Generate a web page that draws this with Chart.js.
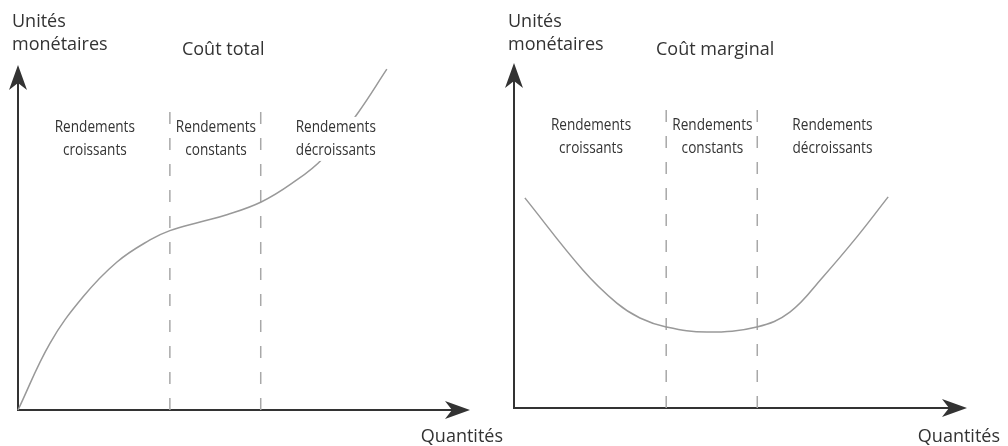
<!DOCTYPE html>
<html>
<head>
<meta charset="utf-8">
<script src="https://cdn.jsdelivr.net/npm/chart.js@4.4.0/dist/chart.umd.min.js"></script>
<style>
  body { margin: 0; background: #fff; }
  #wrap { display: flex; width: 1008px; height: 446px; }
  canvas { display: block; }
</style>
</head>
<body>
<div id="wrap">
  <canvas id="total" width="504" height="446"></canvas>
  <canvas id="marginal" width="504" height="446"></canvas>
</div>
<script>
// quantity where each regime ends (croissants | constants | décroissants)
const regimeLimits = [33.6, 53.7];
const dashTop = 87;

// total cost curve (axis 0-100 both ways)
const totalQ = [0, 7.1, 14.4, 21.9, 29.2, 33.6, 40.3, 46.2, 53.8, 60.5, 67.5, 75.2, 81.6];
const totalV = [0, 19.4, 32.8, 42.9, 49.3, 52.0, 54.5, 56.6, 60.3, 65.6, 73.0, 86.1, 98.8];

// marginal cost curve
const marginalQ = [2.4, 15.2, 22.7, 27.8, 33.6, 42.6, 53.6, 60.9, 68.2, 75.7, 82.6];
const marginalV = [60.9, 40.0, 30.4, 26.1, 23.5, 22.0, 23.5, 27.8, 38.0, 49.6, 61.2];

// labels
const regimeNames = [["Rendements", "croissants"], ["Rendements", "constants"], ["Rendements", "décroissants"]];
const regimeLabelQ = [17, 43.8, 70.3];
const regimeLabelV = 80.6;
const titles = ["Coût total", "Coût marginal"];
const titleQ = [45.4, 44.4];
const yAxisTitle = ["Unités", "monétaires"];
const xAxisTitle = "Quantités";

const ink = '#333333';

function toPoints(xs, ys) {
    return xs.map((x, i) => ({x: x, y: ys[i]}));
}

function decor(idx) {
    return {
        id: 'decor' + idx,
        beforeDatasetsDraw(chart) {
            const ctx = chart.ctx;
            const a = chart.chartArea;
            const x0 = a.left, y0 = a.bottom;
            ctx.save();
            ctx.strokeStyle = ink;
            ctx.fillStyle = ink;
            ctx.lineWidth = 2;
            ctx.beginPath();
            ctx.moveTo(x0, y0);
            ctx.lineTo(x0, a.top + 16);
            ctx.moveTo(x0 - 1, y0);
            ctx.lineTo(a.right - 16, y0);
            ctx.stroke();
            // arrow heads
            ctx.beginPath();
            ctx.moveTo(x0, a.top);
            ctx.lineTo(x0 - 9, a.top + 25);
            ctx.lineTo(x0, a.top + 18);
            ctx.lineTo(x0 + 9, a.top + 25);
            ctx.closePath();
            ctx.fill();
            ctx.beginPath();
            ctx.moveTo(a.right, y0);
            ctx.lineTo(a.right - 25, y0 - 9);
            ctx.lineTo(a.right - 18, y0);
            ctx.lineTo(a.right - 25, y0 + 9);
            ctx.closePath();
            ctx.fill();
            ctx.restore();
        },
        afterDatasetsDraw(chart) {
            const ctx = chart.ctx;
            const a = chart.chartArea;
            const xs = chart.scales.x, ys = chart.scales.y;
            ctx.save();
            ctx.fillStyle = ink;
            ctx.textBaseline = 'alphabetic';

            // axis titles
            ctx.font = '18px "Open Sans"';
            ctx.textAlign = 'left';
            ctx.fillText(yAxisTitle[0], a.left - 6, 27);
            ctx.fillText(yAxisTitle[1], a.left - 6, 50);
            ctx.textAlign = 'right';
            ctx.fillText(xAxisTitle, a.right + 33, 442);

            // chart title
            ctx.textAlign = 'center';
            ctx.fillText(titles[idx], xs.getPixelForValue(titleQ[idx]), 55);

            // regime labels, condensed, on white
            ctx.font = '17px "Open Sans"';
            const sx = 0.8;
            const yb = ys.getPixelForValue(regimeLabelV);
            regimeNames.forEach((lines, i) => {
                const cx = xs.getPixelForValue(regimeLabelQ[i]);
                const w = Math.max(...lines.map(s => ctx.measureText(s).width)) * sx;
                ctx.fillStyle = '#fff';
                ctx.fillRect(cx - w / 2 - 2, yb - 15, w + 4, 44);
                ctx.fillStyle = ink;
                lines.forEach((s, j) => {
                    ctx.save();
                    ctx.translate(cx, yb + j * 23);
                    ctx.scale(sx, 1);
                    ctx.fillText(s, 0, 0);
                    ctx.restore();
                });
            });
            ctx.restore();
        }
    };
}

function makeChart(id, idx, xs, vs, padding) {
    const dashSets = regimeLimits.map(q => ({
        data: [{x: q, y: 0}, {x: q, y: dashTop}],
        showLine: true,
        borderColor: '#a8a8a8',
        borderWidth: 1.5,
        borderDash: [12, 14],
        pointRadius: 0,
        tension: 0,
        clip: false
    }));
    return new Chart(document.getElementById(id), {
        type: 'scatter',
        data: {
            datasets: [{
                data: toPoints(xs, vs),
                showLine: true,
                borderColor: '#999999',
                borderWidth: 1.5,
                pointRadius: 0,
                tension: 0.4,
                clip: false
            }].concat(dashSets)
        },
        options: {
            responsive: false,
            animation: false,
            layout: {padding: padding},
            scales: {
                x: {type: 'linear', min: 0, max: 100, display: false},
                y: {type: 'linear', min: 0, max: 100, display: false}
            },
            plugins: {legend: {display: false}, tooltip: {enabled: false}}
        },
        plugins: [decor(idx)]
    });
}

makeChart('total', 0, totalQ, totalV, {left: 18, top: 65, right: 34, bottom: 36});
makeChart('marginal', 1, marginalQ, marginalV, {left: 10, top: 63, right: 41, bottom: 38});
</script>
</body>
</html>
